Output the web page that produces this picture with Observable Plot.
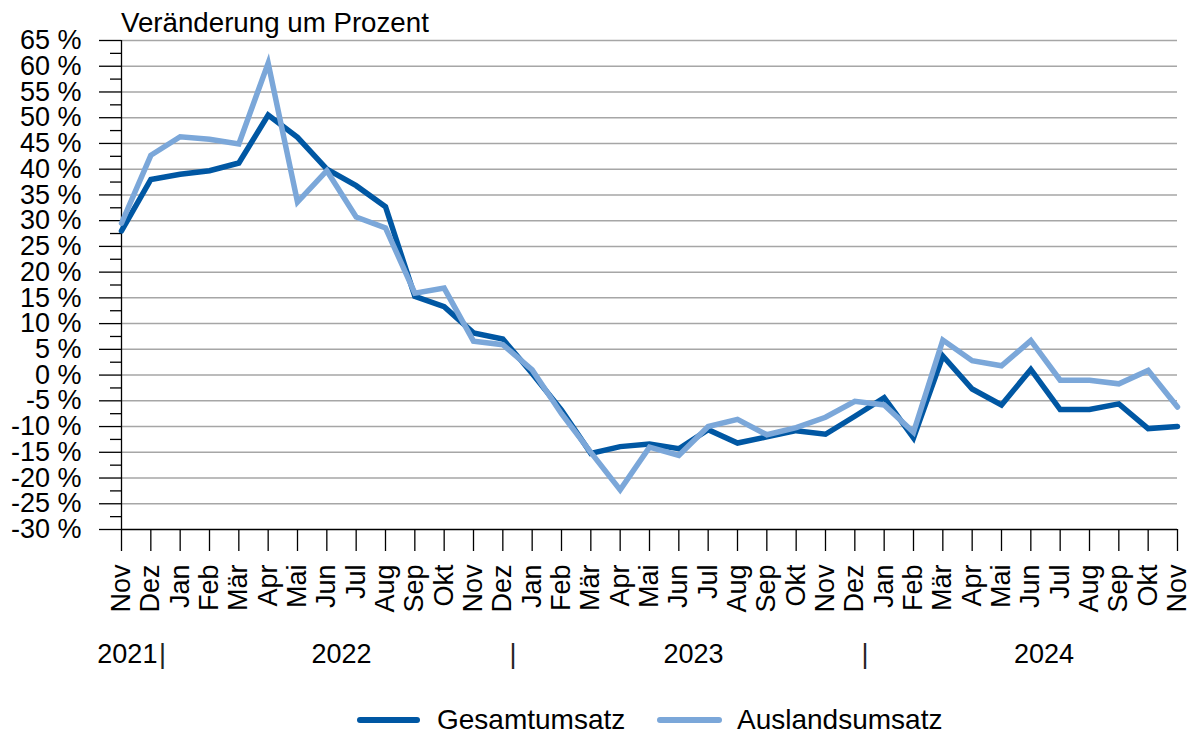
<!DOCTYPE html>
<html>
<head>
<meta charset="utf-8">
<script src="https://cdn.jsdelivr.net/npm/d3@7"></script>
<script src="https://cdn.jsdelivr.net/npm/@observablehq/plot@0.6"></script>
<style>
  body { margin: 0; background: #fff; font-family: "Liberation Sans", Arial, sans-serif; overflow: hidden; }
  #wrap { position: relative; width: 1188px; height: 732px; overflow: hidden; }
  #title { position: relative; top: 8px; height: 30px; line-height: 30px; padding-left: 121px; font-size: 27.7px; white-space: nowrap; color: #000; }
  #legend { position: relative; height: 37px; font-size: 28px; color: #000; }
  .sw { position: absolute; top: 22px; height: 6px; border-radius: 3px; }
  .lt { position: absolute; top: 13px; line-height: 24px; white-space: nowrap; }
</style>
</head>
<body>
<div id="wrap">
  <div id="title">Veränderung um Prozent</div>
  <div id="chart"></div>
  <div id="legend"></div>
</div>
<script>
const months = ["Nov","Dez","Jan","Feb","Mär","Apr","Mai","Jun","Jul","Aug","Sep","Okt","Nov","Dez",
  "Jan","Feb","Mär","Apr","Mai","Jun","Jul","Aug","Sep","Okt","Nov","Dez",
  "Jan","Feb","Mär","Apr","Mai","Jun","Jul","Aug","Sep","Okt","Nov"];
const years = ["2021","2022","2023","2024"];
const seriesNames = ["Gesamtumsatz","Auslandsumsatz"];
const gesamt = [28.0, 38.0, 39.0, 39.7, 41.2, 50.5, 46.2, 40.0, 36.8, 32.7, 15.3, 13.3, 8.2, 7.0,
  0.3, -6.8, -15.2, -13.9, -13.4, -14.3, -10.6, -13.2, -12.0, -10.8, -11.5, -8.0,
  -4.4, -12.2, 3.7, -2.7, -5.8, 1.1, -6.7, -6.7, -5.6, -10.4, -10.0];
const ausland = [29.5, 42.7, 46.3, 45.8, 44.9, 60.6, 33.6, 39.7, 30.7, 28.6, 15.9, 16.9, 6.6, 5.9,
  1.0, -7.5, -15.0, -22.3, -14.0, -15.6, -10.0, -8.6, -11.6, -10.2, -8.2, -5.1,
  -5.8, -11.1, 6.8, 2.8, 1.8, 6.7, -1.0, -1.0, -1.7, 0.9, -6.2];
const yTicks = d3.range(-30, 66, 5);
const yMinor = d3.range(-27.5, 65, 5);

const colors = ["#0057a3", "#7ba7d9"];

const data = [];
months.forEach((m, i) => {
  data.push({i, v: gesamt[i], s: seriesNames[0]});
  data.push({i, v: ausland[i], s: seriesNames[1]});
});

// year label centers (in month-index units) and separators between years
const yearIdx = [0.2, 7.5, 19.5, 31.45];
const sepIdx = [1.4, 13.35, 25.35];

const chart = Plot.plot({
  width: 1188,
  height: 665,
  marginTop: 10,
  marginBottom: 166,
  marginLeft: 121,
  marginRight: 11,
  style: { fontFamily: "'Liberation Sans', Arial, sans-serif", fontSize: "27px", color: "#000", background: "#fff", overflow: "visible" },
  x: { domain: [0, months.length - 1] },
  y: { domain: [-30, 65] },
  marks: [
    Plot.ruleY(yTicks.filter(d => d > -30), { stroke: "#a6a6a6", strokeWidth: 1.5 }),
    Plot.axisY({ ticks: yTicks, tickSize: 22, tickPadding: 18, tickFormat: d => `${d} %`, fontSize: 27, label: null, strokeWidth: 1.3 }),
    Plot.axisY({ ticks: yMinor, tickSize: 11, tickFormat: () => "", label: null, strokeWidth: 1.3 }),
    Plot.axisX({ ticks: d3.range(months.length), tickSize: 22, tickPadding: 13, tickRotate: -90,
      tickFormat: i => months[i], fontSize: 27, label: null, strokeWidth: 1.3 }),
    Plot.ruleX([0], { stroke: "#000", strokeWidth: 1.3 }),
    Plot.ruleY([-30], { stroke: "#000", strokeWidth: 1.3 }),
    Plot.line(data.filter(d => d.s === seriesNames[0]), { x: "i", y: "v", stroke: colors[0], strokeWidth: 5.5, strokeLinejoin: "miter", strokeMiterlimit: 4 }),
    Plot.line(data.filter(d => d.s === seriesNames[1]), { x: "i", y: "v", stroke: colors[1], strokeWidth: 5.5, strokeLinejoin: "miter", strokeMiterlimit: 4 }),
    Plot.text(years, { x: (d, k) => yearIdx[k], text: d => d, frameAnchor: "bottom", dy: 133, fontSize: 27, fill: "#000" }),
    Plot.text(sepIdx, { x: d => d, text: () => "|", frameAnchor: "bottom", dy: 133, fontSize: 27, fill: "#222" })
  ]
});
document.getElementById("chart").appendChild(chart);

const legend = document.getElementById("legend");
const legendPos = [[357, 63, 437], [657, 65, 737]];
seriesNames.forEach((name, k) => {
  const sw = document.createElement("div");
  sw.className = "sw";
  sw.style.left = legendPos[k][0] + "px";
  sw.style.width = legendPos[k][1] + "px";
  sw.style.background = colors[k];
  legend.appendChild(sw);
  const t = document.createElement("div");
  t.className = "lt";
  t.style.left = legendPos[k][2] + "px";
  t.textContent = name;
  legend.appendChild(t);
});
</script>
</body>
</html>
